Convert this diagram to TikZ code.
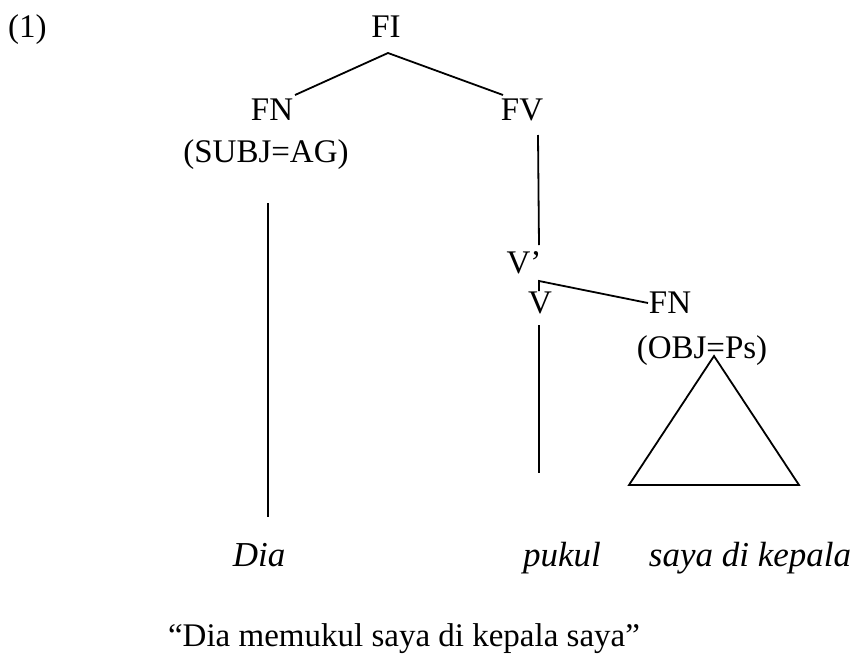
\documentclass[tikz,border=0pt]{standalone}
\usepackage{fontspec}
\setmainfont{Liberation Serif}
\usepackage{tikz}
\usetikzlibrary{arrows}

\tikzset{lbl/.style={anchor=base,inner sep=0pt,font=\fontsize{33}{40}\selectfont},
	wrd/.style={lbl,font=\fontsize{35}{42}\selectfont\itshape},
	br/.style={black,line width=1.8pt}}

\begin{document}
\begin{tikzpicture}[x=1pt,y=-1pt]
		\useasboundingbox (0,0) rectangle (855,654);
		%example number
		\node[lbl,anchor=base west] (ex) at (8,37) {(1)};
		%categories
		\node[lbl] (fi) at (386,37) {FI};
		\node[lbl] (fn) at (272,120) {FN};
		\node[lbl] (subj) at (266,162) {(SUBJ=AG)};
		\node[lbl] (fv) at (522,120) {FV};
		\node[lbl] (vb) at (524,273) {V’};
		\node[lbl] (v) at (540,313) {V};
		\node[lbl] (fnb) at (670,313) {FN};
		\node[lbl] (obj) at (702,358) {(OBJ=Ps)};
		%words
		\node[wrd] (dia) at (259,566) {Dia};
		\node[wrd] (pukul) at (562,566) {pukul};
		\node[wrd] (saya) at (750,566) {saya di kepala};
		%gloss
		\node[lbl] (gloss) at (404,646) {“Dia memukul saya di kepala saya”};
		%branch points
		\coordinate (fi-b) at (388,53);
		\coordinate (fn-t) at (295,95);
		\coordinate (fv-t) at (503,95);
		\coordinate (fv-b) at (538,135);
		\coordinate (vb-t) at (539,245);
		\coordinate (vb-b) at (539,281);
		\coordinate (v-t) at (539,291);
		\coordinate (fnb-t) at (648,303);
		\coordinate (subj-b) at (268,203);
		\coordinate (dia-t) at (268,517);
		\coordinate (v-b) at (539,325);
		\coordinate (pukul-t) at (539,473);
		\coordinate (obj-b) at (714,356);
		\coordinate (tri-l) at (629,485);
		\coordinate (tri-r) at (799,485);
		%branches
		\draw[br] (fn-t) -- (fi-b) -- (fv-t);
		\draw[br] (fv-b) -- (vb-t);
		\draw[br] (v-t) -- (vb-b) -- (fnb-t);
		\draw[br] (subj-b) -- (dia-t);
		\draw[br] (v-b) -- (pukul-t);
		\draw[br] (obj-b) -- (tri-l) -- (tri-r) -- cycle;
		\end{tikzpicture}
\end{document}
